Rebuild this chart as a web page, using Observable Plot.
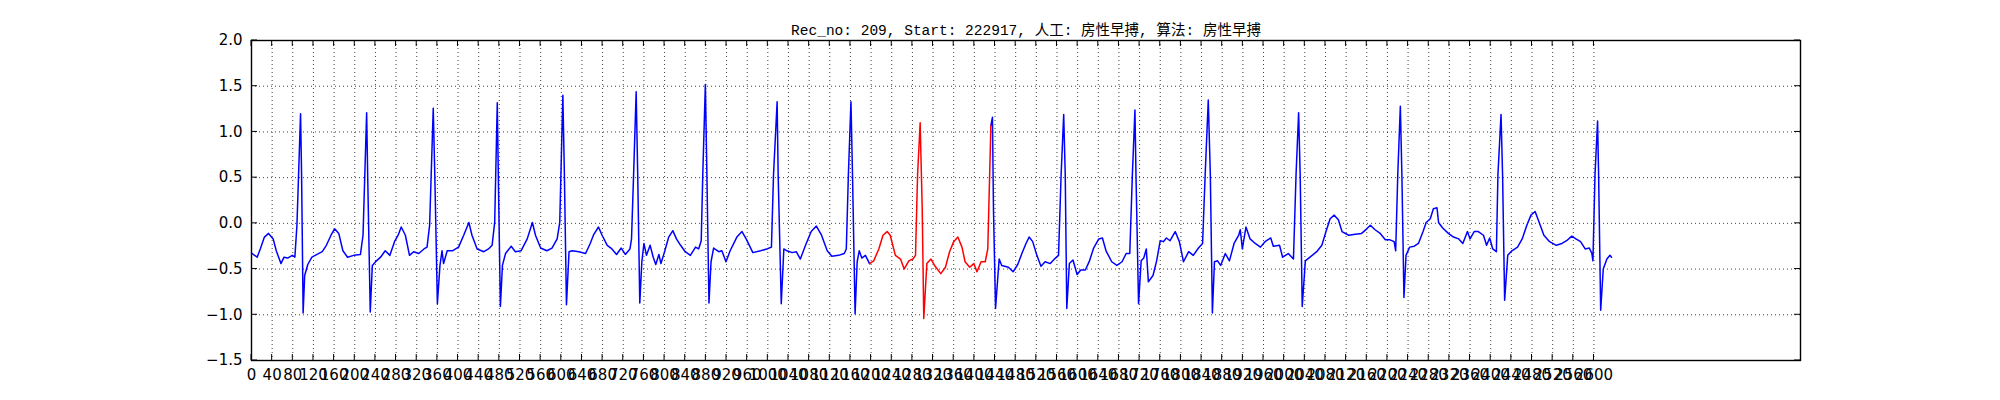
<!DOCTYPE html>
<html>
<head>
<meta charset="utf-8">
<script src="https://cdn.jsdelivr.net/npm/d3@7"></script>
<script src="https://cdn.jsdelivr.net/npm/@observablehq/plot@0.6"></script>
<style>
  html, body { margin: 0; padding: 0; background: #fff; }
</style>
</head>
<body>
<div id="chart"></div>
<script>
const titleText = "Rec_no: 209, Start: 222917, 人工: 房性早搏, 算法: 房性早搏";

const xTicks = d3.range(0, 2601, 40);
const yTicks = [-1.5, -1.0, -0.5, 0.0, 0.5, 1.0, 1.5, 2.0];
const xDomain = [0, 3000];
const yDomain = [-1.5, 2.0];

// annotated (red) segment, sample indices
const redStart = 1197;
const redEnd = 1432;

const sampleIndex = [
0,11,17,25,33,42,48,57,63,70,79,84,88,95,97,100,103,109,117,127,137,145,154,161,169,177,186,198,211,216,
223,225,230,234,242,250,259,268,277,284,290,298,306,314,324,334,340,345,352,355,360,365,369,372,379,389,
401,411,421,427,437,450,459,466,471,476,478,482,486,492,503,511,522,534,544,550,560,572,582,592,597,603,
606,610,615,621,634,647,656,663,672,679,689,698,707,716,724,733,736,740,745,748,752,756,760,765,772,778,
783,789,793,800,808,816,823,831,840,850,860,866,871,874,879,882,886,890,895,905,911,919,927,940,950,958,
971,986,998,1007,1011,1018,1020,1026,1031,1037,1047,1055,1063,1073,1084,1094,1104,1115,1124,1137,1148,
1152,1156,1161,1164,1169,1173,1177,1182,1189,1197,1205,1215,1223,1231,1237,1247,1257,1264,1273,1281,1286,
1290,1295,1299,1302,1308,1316,1324,1335,1344,1352,1360,1368,1376,1382,1391,1399,1405,1413,1421,1426,1432,
1435,1437,1441,1448,1453,1466,1475,1484,1492,1500,1506,1513,1521,1529,1537,1547,1557,1563,1568,1573,1576,
1579,1584,1591,1599,1606,1615,1623,1631,1641,1648,1655,1666,1676,1686,1694,1701,1706,1711,1713,1718,1723,
1728,1733,1737,1746,1753,1760,1766,1772,1779,1789,1797,1805,1815,1824,1834,1842,1847,1853,1857,1861,1865,
1871,1877,1886,1894,1903,1912,1915,1919,1926,1934,1944,1954,1963,1974,1979,1991,1997,2008,2018,2023,2028,
2031,2035,2041,2050,2063,2073,2081,2089,2097,2105,2112,2125,2138,2150,2160,2167,2176,2186,2196,2205,2213,
2216,2220,2225,2228,2232,2236,2243,2252,2260,2269,2275,2283,2289,2296,2299,2307,2318,2328,2338,2346,2355,
2360,2368,2376,2386,2392,2398,2404,2411,2414,2420,2423,2427,2433,2441,2452,2461,2470,2478,2486,2494,2503,
2514,2527,2538,2547,2557,2565,2574,2583,2591,2596,2598,2602,2607,2609,2613,2618,2625,2631,2634
];

const amplitude = [
-0.325,-0.37,-0.28,-0.15,-0.11,-0.17,-0.30,-0.44,-0.37,-0.38,-0.35,-0.37,-0.02,1.20,0.53,-0.98,-0.57,-0.45,-0.37,-0.34,-0.31,-0.24,-0.13,-0.06,-0.11,-0.30,-0.37,-0.35,-0.34,-0.13,
1.21,0.53,-0.97,-0.46,-0.41,-0.37,-0.30,-0.35,-0.20,-0.13,-0.04,-0.13,-0.35,-0.31,-0.33,-0.28,-0.26,-0.02,1.26,0.53,-0.88,-0.46,-0.30,-0.44,-0.30,-0.30,
-0.26,-0.13,0.01,-0.13,-0.28,-0.31,-0.28,-0.24,0.01,1.32,0.53,-0.91,-0.46,-0.33,-0.25,-0.31,-0.30,-0.17,0.01,-0.13,-0.27,-0.30,-0.27,-0.17,0.01,1.40,
0.53,-0.89,-0.31,-0.30,-0.31,-0.33,-0.22,-0.12,-0.04,-0.13,-0.24,-0.28,-0.34,-0.27,-0.34,-0.28,-0.17,0.53,1.44,0.53,-0.87,-0.42,-0.22,-0.35,-0.24,-0.37,
-0.45,-0.34,-0.44,-0.31,-0.15,-0.08,-0.17,-0.24,-0.31,-0.35,-0.26,-0.28,-0.19,0.53,1.52,0.53,-0.87,-0.42,-0.27,-0.31,-0.30,-0.42,-0.30,-0.15,-0.09,-0.17,
-0.32,-0.30,-0.28,-0.26,0.53,1.33,0.53,-0.88,-0.28,-0.30,-0.32,-0.31,-0.39,-0.24,-0.09,-0.03,-0.13,-0.30,-0.36,-0.35,-0.33,
-0.28,0.53,1.33,0.53,-0.99,-0.42,-0.30,-0.38,-0.35,-0.44,-0.41,-0.28,-0.13,-0.09,-0.13,-0.35,-0.39,-0.50,-0.41,-0.39,-0.35,
0.53,1.10,0.16,-1.04,-0.44,-0.39,-0.47,-0.55,-0.48,-0.31,-0.20,-0.15,-0.26,-0.42,-0.48,-0.44,-0.53,-0.42,-0.42,-0.28,1.07,
1.16,0.16,-0.93,-0.39,-0.46,-0.48,-0.53,-0.45,-0.33,-0.22,-0.15,-0.20,-0.35,-0.47,-0.42,-0.44,-0.38,-0.35,0.53,1.19,0.53,
-0.93,-0.44,-0.40,-0.56,-0.51,-0.51,-0.41,-0.27,-0.17,-0.16,-0.30,-0.42,-0.46,-0.42,-0.33,-0.33,0.53,1.24,0.53,-0.88,-0.41,
-0.38,-0.28,-0.64,-0.57,-0.41,-0.19,-0.20,-0.16,-0.19,-0.09,-0.20,-0.42,-0.31,-0.35,-0.27,-0.22,0.53,1.35,0.53,-0.98,-0.42,
-0.41,-0.46,-0.33,-0.41,-0.22,-0.13,-0.07,-0.28,-0.04,-0.17,-0.22,-0.26,-0.20,-0.16,-0.25,-0.24,-0.37,-0.33,-0.39,0.53,1.21,
0.53,-0.91,-0.41,-0.37,-0.31,-0.24,-0.09,0.05,0.09,0.04,-0.09,-0.13,-0.12,-0.11,-0.06,-0.02,-0.07,-0.11,-0.18,-0.18,-0.20,
-0.30,0.53,1.28,0.53,-0.81,-0.35,-0.26,-0.25,-0.22,-0.09,0.01,0.05,0.16,0.17,0.01,-0.05,-0.11,-0.15,-0.17,-0.22,-0.09,
-0.17,-0.09,-0.09,-0.13,-0.24,-0.16,-0.28,-0.31,0.53,1.19,0.53,-0.84,-0.35,-0.30,-0.26,-0.17,-0.02,0.09,0.13,0.01,-0.13,
-0.20,-0.24,-0.22,-0.19,-0.14,-0.17,-0.20,-0.28,-0.27,-0.33,-0.41,0.53,1.12,0.53,-0.95,-0.50,-0.39,-0.35,-0.37
];

const signal = sampleIndex.map((s, i) => ({s, v: amplitude[i]}));
const blueBefore = signal.filter(d => d.s <= redStart);
const redSegment = signal.filter(d => d.s >= redStart && d.s <= redEnd);
const blueAfter = signal.filter(d => d.s >= redEnd);

const chart = Plot.plot({
  width: 2000,
  height: 400,
  marginLeft: 251,
  marginRight: 200,
  marginTop: 40,
  marginBottom: 40,
  style: {fontFamily: "'DejaVu Sans', sans-serif", fontSize: "15px", background: "#fff", color: "#000"},
  x: {domain: xDomain},
  y: {domain: yDomain},
  marks: [
    Plot.gridX(xTicks, {stroke: "#000", strokeOpacity: 0.75, strokeWidth: 1, strokeDasharray: "1,3"}),
    Plot.gridY(yTicks, {stroke: "#000", strokeOpacity: 0.75, strokeWidth: 1, strokeDasharray: "1,3"}),
    Plot.line(blueBefore, {x: "s", y: "v", stroke: "#0000ff", strokeWidth: 1.5}),
    Plot.line(blueAfter, {x: "s", y: "v", stroke: "#0000ff", strokeWidth: 1.5}),
    Plot.line(redSegment, {x: "s", y: "v", stroke: "#ff0000", strokeWidth: 1.5}),
    Plot.frame({stroke: "#000", strokeWidth: 1.4}),
    Plot.axisX(xTicks, {tickSize: 0, tickPadding: 9, label: null, tickFormat: d => String(d), fill: "#000"}),
    Plot.axisY(yTicks, {tickSize: 0, tickPadding: 9, label: null, tickFormat: d3.format(".1f"), fill: "#000"}),
    Plot.text([titleText], {frameAnchor: "top", lineAnchor: "bottom", dy: -6,
      fontFamily: "'Liberation Mono', 'Noto Sans CJK SC', monospace", fontSize: 14.5, fill: "#000"})
  ]
});

// inward ticks on all four sides (matplotlib classic style), positioned via Plot's scales
const sx = chart.scale("x"), sy = chart.scale("y");
const xPix = sx.range, yPix = sy.range; // [left,right], [bottom,top]
const tickLen = 6;
const g = d3.select(chart).append("g").attr("stroke", "#000").attr("stroke-width", 1);
xTicks.forEach(t => {
  const X = sx.apply(t);
  g.append("line").attr("x1", X).attr("x2", X).attr("y1", yPix[0]).attr("y2", yPix[0] - tickLen);
  g.append("line").attr("x1", X).attr("x2", X).attr("y1", yPix[1]).attr("y2", yPix[1] + tickLen);
});
yTicks.forEach(t => {
  const Y = sy.apply(t);
  g.append("line").attr("x1", xPix[0]).attr("x2", xPix[0] + tickLen).attr("y1", Y).attr("y2", Y);
  g.append("line").attr("x1", xPix[1]).attr("x2", xPix[1] - tickLen).attr("y1", Y).attr("y2", Y);
});

document.getElementById("chart").appendChild(chart);
</script>
</body>
</html>
